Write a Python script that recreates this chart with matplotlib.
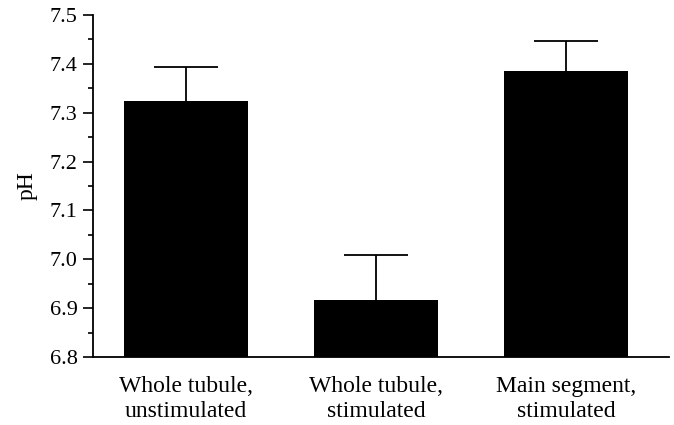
import numpy as np
import matplotlib
matplotlib.use("Agg")
import matplotlib.pyplot as plt
from matplotlib.ticker import MultipleLocator

categories = ["Whole tubule,\nunstimulated", "Whole tubule,\nstimulated", "Main segment,\nstimulated"]
ph_mean = [7.323, 6.916, 7.386]
ph_err = [0.071, 0.092, 0.061]
y_ticks = [6.8, 6.9, 7.0, 7.1, 7.2, 7.3, 7.4, 7.5]

plt.rcParams["font.family"] = ["Liberation Serif", "DejaVu Serif"]
plt.rcParams["font.size"] = 16

fig = plt.figure(figsize=(6.74, 4.25), dpi=100)
ax = fig.add_axes([93 / 674, 1 - 357 / 425, (669 - 93) / 674, (357 - 15) / 425])

x = np.arange(len(categories))
ax.bar(x, np.array(ph_mean) - 6.8, bottom=6.8, width=0.65, color="black")
_, caps, _ = ax.errorbar(x, ph_mean, yerr=[np.zeros(3), ph_err], fmt="none", ecolor="black",
                         elinewidth=1.3, capsize=23, capthick=1.3)
caps[0].set_visible(False)  # only the upper cap, like the original

ax.set_ylim(6.8, 7.5)
ax.set_xlim(-0.487, 2.54)
ax.yaxis.set_minor_locator(MultipleLocator(0.05))
ax.set_yticks(y_ticks)
ax.set_yticklabels([f"{v:.1f}" for v in y_ticks])
ax.set_xticks(x)
ax.set_xticklabels(categories, linespacing=1.2, fontsize=17)
ax.tick_params(axis="x", length=0, pad=14)
ax.tick_params(axis="y", which="major", length=7, width=1.2, pad=4)
ax.tick_params(axis="y", which="minor", length=3.5, width=1.2)
for s in ["top", "right"]:
    ax.spines[s].set_visible(False)
for s in ["left", "bottom"]:
    ax.spines[s].set_linewidth(1.3)
ax.set_ylabel("pH", labelpad=9, fontsize=17)

fig.savefig("out.png", dpi=100)
